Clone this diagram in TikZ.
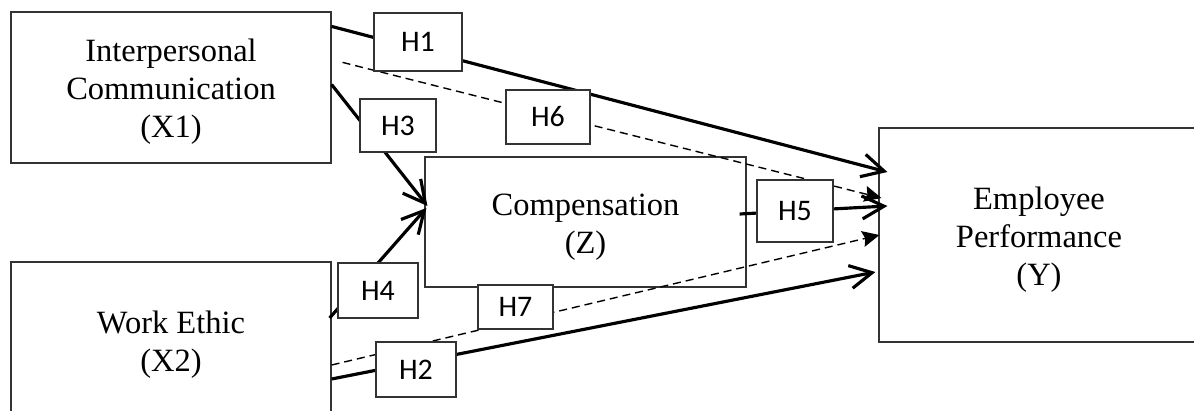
\documentclass[tikz,border=0pt]{standalone}
\usepackage{fontspec}
\setmainfont{Liberation Serif}
\newfontfamily\hypfont{Carlito}
\usetikzlibrary{calc,arrows.meta}
\tikzset{>=stealth}
\newcommand{\topgap}{\rule{0pt}{18pt}}
\tikzset{
  varbox/.style={draw=black!80, line width=0.7pt, align=center, font=\fontsize{18.5}{21.6}\selectfont},
  hypbox/.style={draw=black!80, fill=white, line width=0.7pt, font=\hypfont\fontsize{17}{19}\selectfont},
  direct/.style={line width=1.8pt, -{Straight Barb[length=4.4mm,width=4.6mm]}},
  indirect/.style={line width=0.8pt, dash pattern=on 1.6mm off 1mm, -{Stealth[length=3.4mm,width=3.2mm,inset=0.5mm]}},
}

\begin{document}
\begin{tikzpicture}[x=0.02cm, y=-0.02cm]
    \useasboundingbox (0,0) rectangle (1194,410);
    \clip (0,0) rectangle (1194,410);

    % variables
    \node[varbox, minimum width=6.4cm, minimum height=3.02cm] at (171, 87.5) (X1) {\topgap Interpersonal\\ Communication\\ (X1)};
    \node[varbox, minimum width=6.4cm, minimum height=3.12cm] at (171, 340) (X2) {\topgap Work Ethic\\ (X2)};
    \node[varbox, minimum width=6.42cm, minimum height=2.6cm] at (585.5, 222) (Z) {\topgap Compensation\\ (Z)};
    \node[varbox, minimum width=6.4cm, minimum height=4.28cm] at (1039, 235) (Y) {\topgap Employee\\ Performance\\ (Y)};

    % paths
    \draw[direct] ($(X1.north east)+(0,15)$) -- ($(Y.west)+(9,-63)$);
    \draw[indirect] ($(X1.north east)+(11,51)$) -- ($(Y.west)+(3,-37)$);
    \draw[direct] ($(X1.east)+(0,-3)$) -- ($(Z.west)+(3,-16)$);
    \draw[direct] ($(X2.east)+(-2,-22)$) -- ($(Z.west)+(2,-14)$);
    \draw[direct] ($(Z.east)+(-7,-8)$) -- ($(Y.west)+(9,-29)$);
    \draw[indirect] ($(X2.east)+(0,25)$) -- ($(Y.west)+(1,0)$);
    \draw[direct] ($(X2.east)+(0,39)$) -- ($(Y.west)+(-3,37)$);

    % hypotheses
    \node[hypbox, minimum width=1.76cm, minimum height=1.16cm] at (418, 42) (h1) {H1};
    \node[hypbox, minimum width=1.52cm, minimum height=1.06cm] at (398, 125.5) (h3) {H3};
    \node[hypbox, minimum width=1.68cm, minimum height=1.08cm] at (548, 117) (h6) {H6};
    \node[hypbox, minimum width=1.52cm, minimum height=1.24cm] at (795, 211) (h5) {H5};
    \node[hypbox, minimum width=1.6cm, minimum height=1.1cm] at (378, 290.5) (h4) {H4};
    \node[hypbox, minimum width=1.5cm, minimum height=0.88cm] at (515.5, 307) (h7) {\raisebox{-3pt}{H7}};
    \node[hypbox, minimum width=1.6cm, minimum height=1.1cm] at (416, 369.5) (h2) {H2};
\end{tikzpicture}
\end{document}
